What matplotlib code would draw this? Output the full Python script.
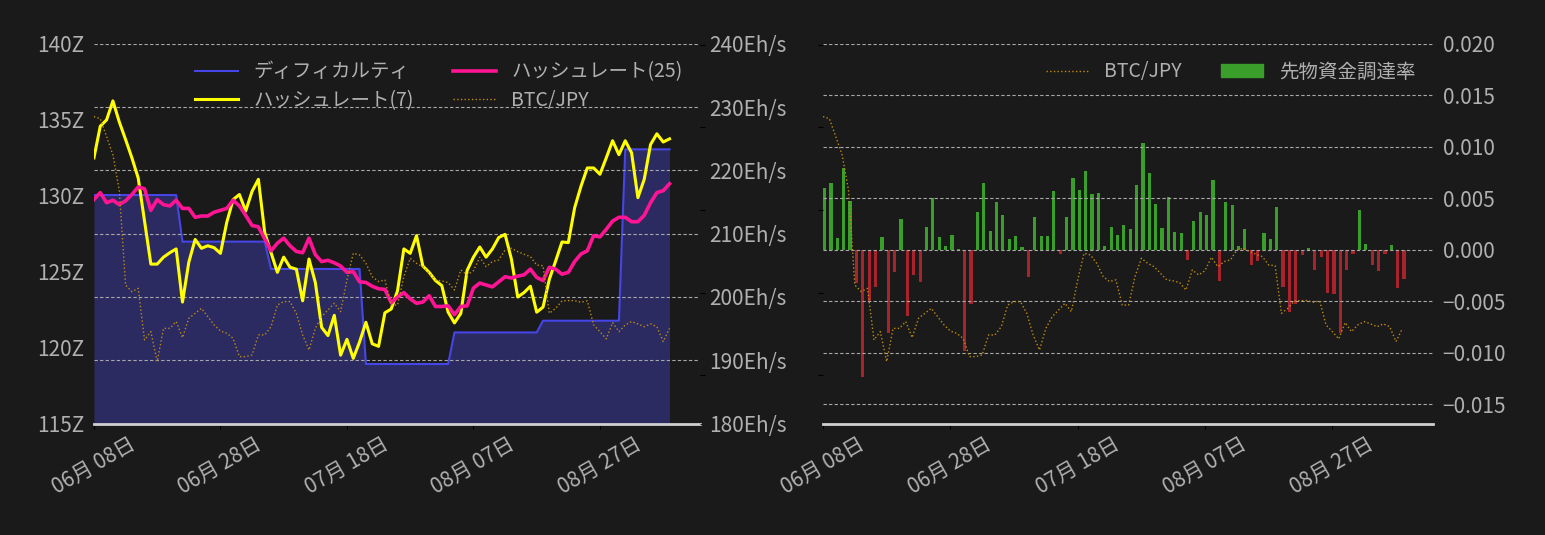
import matplotlib
matplotlib.use("Agg")
import matplotlib.pyplot as plt
import matplotlib.dates as mdates
from matplotlib.lines import Line2D
from matplotlib.patches import Patch
from matplotlib.ticker import FuncFormatter, MultipleLocator
import pandas as pd

plt.rcParams['font.family'] = ['Noto Sans CJK JP', 'DejaVu Sans']

# daily data, 2022-06-08 .. 2022-09-07
dates = pd.date_range('2022-06-08', periods=92, freq='D').to_pydatetime()

# difficulty (Z hashes)
difficulty = [
    130.05, 130.05, 130.05, 130.05, 130.05, 130.05, 130.05, 130.05, 130.05, 130.05,
    130.05, 130.05, 130.05, 130.05, 126.98, 126.98, 126.98, 126.98, 126.98, 126.98,
    126.98, 126.98, 126.98, 126.98, 126.98, 126.98, 126.98, 126.98, 125.18, 125.18,
    125.18, 125.18, 125.18, 125.18, 125.18, 125.18, 125.18, 125.18, 125.18, 125.18,
    125.18, 125.18, 125.18, 118.92, 118.92, 118.92, 118.92, 118.92, 118.92, 118.92,
    118.92, 118.92, 118.92, 118.92, 118.92, 118.92, 118.92, 121.00, 121.00, 121.00,
    121.00, 121.00, 121.00, 121.00, 121.00, 121.00, 121.00, 121.00, 121.00, 121.00,
    121.00, 121.77, 121.77, 121.77, 121.77, 121.77, 121.77, 121.77, 121.77, 121.77,
    121.77, 121.77, 121.77, 121.77, 133.06, 133.06, 133.06, 133.06, 133.06, 133.06,
    133.06, 133.06]

# hashrate, 7-day average (Eh/s)
hash7 = [
    222.0, 227.0, 228.0, 231.0, 227.7, 224.9, 222.0, 218.8, 212.0, 205.2,
    205.2, 206.3, 207.0, 207.6, 199.2, 205.5, 209.1, 207.7, 208.1, 207.8,
    206.9, 211.8, 215.4, 216.2, 213.6, 216.7, 218.6, 210.2, 207.0, 203.9,
    206.3, 204.7, 204.4, 199.4, 206.0, 202.3, 195.2, 193.9, 197.1, 190.8,
    193.3, 190.3, 192.9, 196.0, 192.6, 192.2, 197.5, 198.1, 201.0, 207.6,
    206.9, 209.7, 204.9, 203.9, 202.6, 201.8, 197.6, 195.9, 197.4, 204.2,
    206.3, 207.9, 206.3, 207.6, 209.4, 209.9, 206.0, 200.0, 200.7, 201.7,
    197.6, 198.4, 202.8, 205.7, 208.7, 208.6, 214.1, 217.5, 220.4, 220.4,
    219.4, 222.0, 224.7, 222.5, 224.7, 222.8, 215.7, 218.6, 224.1, 225.8,
    224.5, 225.0]

# hashrate, 25-day average (Eh/s)
hash25 = [
    215.4, 216.5, 214.9, 215.3, 214.6, 215.2, 216.2, 217.4, 217.1, 213.7,
    215.4, 214.6, 214.4, 215.3, 214.0, 214.0, 212.6, 212.8, 212.8, 213.4,
    213.7, 214.0, 215.3, 214.4, 212.9, 211.3, 211.1, 209.2, 207.3, 208.5,
    209.3, 208.1, 207.2, 207.0, 209.3, 206.7, 205.6, 205.8, 205.4, 204.9,
    203.9, 204.0, 202.4, 202.3, 201.7, 201.3, 201.2, 199.1, 200.0, 200.7,
    199.7, 199.0, 199.2, 200.2, 198.5, 198.5, 198.6, 197.2, 198.5, 198.6,
    201.4, 202.2, 201.9, 201.6, 202.4, 203.2, 203.0, 203.3, 203.5, 204.4,
    203.1, 202.6, 204.7, 204.4, 203.6, 203.9, 205.6, 206.8, 207.3, 209.7,
    209.5, 210.7, 212.0, 212.6, 212.6, 211.9, 211.9, 212.9, 214.9, 216.5,
    216.8, 217.9]

# BTC/JPY close
btc = [
    4065000, 4052000, 3944000, 3833000, 3621000, 3046000, 3006000, 3026000, 2714000, 2764000,
    2583000, 2784000, 2784000, 2825000, 2728000, 2845000, 2875000, 2905000, 2855000, 2805000,
    2768000, 2754000, 2724000, 2613000, 2613000, 2623000, 2744000, 2744000, 2794000, 2925000,
    2946000, 2946000, 2875000, 2744000, 2653000, 2784000, 2855000, 2895000, 2936000, 2885000,
    3077000, 3238000, 3228000, 3177000, 3097000, 3067000, 3077000, 2925000, 2925000, 3097000,
    3208000, 3177000, 3157000, 3117000, 3077000, 3071000, 3061000, 3016000, 3137000, 3107000,
    3133000, 3214000, 3157000, 3188000, 3198000, 3258000, 3268000, 3248000, 3232000, 3218000,
    3167000, 3163000, 2875000, 2905000, 2950000, 2952000, 2952000, 2942000, 2950000, 2805000,
    2764000, 2720000, 2819000, 2764000, 2805000, 2825000, 2811000, 2794000, 2811000, 2794000,
    2704000, 2784000]

# futures funding rate
funding = [
    0.0060, 0.0065, 0.0012, 0.0080, 0.0048, -0.0032, -0.0123, -0.0051, -0.0036, 0.0013,
    -0.0081, -0.0021, 0.0030, -0.0064, -0.0024, -0.0031, 0.0022, 0.0050, 0.0013, 0.0004,
    0.0015, 0.0001, -0.0098, -0.0052, 0.0037, 0.0065, 0.0018, 0.0047, 0.0034, 0.0011,
    0.0014, 0.0003, -0.0026, 0.0032, 0.0014, 0.0014, 0.0057, -0.0004, 0.0032, 0.0070,
    0.0058, 0.0077, 0.0054, 0.0055, 0.0004, 0.0022, 0.0015, 0.0024, 0.0020, 0.0063,
    0.0104, 0.0075, 0.0045, 0.0021, 0.0051, 0.0017, 0.0016, -0.0010, 0.0028, 0.0037,
    0.0034, 0.0068, -0.0030, 0.0047, 0.0044, 0.0004, 0.0020, -0.0015, -0.0011, 0.0016,
    0.0011, 0.0042, -0.0036, -0.0060, -0.0052, -0.0005, 0.0002, -0.0019, -0.0007, -0.0042,
    -0.0043, -0.0081, -0.0019, -0.0004, 0.0039, 0.0006, -0.0015, -0.0020, -0.0004, 0.0005,
    -0.0037, -0.0028]

BG = '#1a1a1a'
TXT = '#b0b0b0'
GRID = '#a8a8a8'
BTC_C = '#c08a12'

fig = plt.figure(figsize=(15.45, 5.35), dpi=100, facecolor=BG)

x0 = mdates.date2num(dates[0])
xlim = (x0, x0 + 95.8)
xticks = dates[::20]


def style_axes(ax, bottom=False):
    ax.set_facecolor('none')
    for s in ['top', 'left', 'right']:
        ax.spines[s].set_visible(False)
    ax.spines['bottom'].set_visible(bottom)
    ax.spines['bottom'].set_color('#d0d0d0')
    ax.spines['bottom'].set_linewidth(2)
    ax.tick_params(colors=TXT, labelsize=15)
    ax.tick_params(axis='y', color=BG)
    ax.tick_params(axis='x', color='black')


def style_dates(ax):
    ax.set_xlim(xlim)
    ax.set_xticks(xticks)
    ax.xaxis.set_major_formatter(mdates.DateFormatter('%m月 %d日'))
    for lbl in ax.get_xticklabels():
        lbl.set_rotation(30)
        lbl.set_ha('center')


# ---------- left: difficulty / hashrate ----------
ax_d = fig.add_axes([0.0608, 0.2084, 0.3922, 0.7094])
ax_d.set_facecolor(BG)
style_axes(ax_d, bottom=True)
ax_d.fill_between(dates, difficulty, 100, color='#2b2b62', linewidth=0)
ax_d.plot(dates, difficulty, color='#4646e6', lw=1.5)
ax_d.set_ylim(115, 140)
ax_d.set_yticks([115, 120, 125, 130, 135, 140])
ax_d.yaxis.set_major_formatter(FuncFormatter(lambda v, p: f'{v:.0f}Z'))
style_dates(ax_d)

ax_h = ax_d.twinx()
style_axes(ax_h)
ax_h.plot(dates, hash7, color='#ffff00', lw=2.2)
ax_h.plot(dates, hash25, color='#ff1493', lw=2.6)
ax_h.set_ylim(180, 240)
ax_h.set_yticks([180, 190, 200, 210, 220, 230, 240])
ax_h.yaxis.set_major_formatter(FuncFormatter(lambda v, p: f'{v:.0f}Eh/s'))
ax_h.grid(axis='y', color=GRID, linestyle=(0, (3, 2)), lw=0.8)

ax_b = ax_d.twinx()
style_axes(ax_b)
ax_b.plot(dates, btc, color=BTC_C, lw=1.0, linestyle=':')
ax_b.set_ylim(2208500, 4504000)
ax_b.yaxis.set_major_locator(MultipleLocator(500000))
ax_b.tick_params(axis='y', color='black', labelright=False)

handles = [
    Line2D([], [], color='#4646e6', lw=1.5),
    Line2D([], [], color='#ffff00', lw=2.2),
    Line2D([], [], color='#ff1493', lw=2.6),
    Line2D([], [], color=BTC_C, lw=1.0, linestyle=':'),
]
labels = ['ディフィカルティ', 'ハッシュレート(7)', 'ハッシュレート(25)', 'BTC/JPY']
ax_b.legend(handles, labels, loc='upper right', ncol=2, frameon=False,
            fontsize=14, labelcolor=TXT, handlelength=2.2, handletextpad=0.8,
            columnspacing=2.0, labelspacing=0.4)

# ---------- right: funding rate ----------
ax_f = fig.add_axes([0.5327, 0.2084, 0.3948, 0.7094])
ax_f.set_facecolor(BG)
style_axes(ax_f, bottom=True)
bar_colors = ['#3a9e2a' if v >= 0 else '#a8232b' for v in funding]
ax_f.bar(dates, funding, width=0.5, align='edge', color=bar_colors)
ax_f.set_ylim(-0.01685, 0.020)
ax_f.set_yticks([-0.015, -0.010, -0.005, 0.0, 0.005, 0.010, 0.015, 0.020])
ax_f.grid(axis='y', color=GRID, linestyle=(0, (3, 2)), lw=0.8)
style_dates(ax_f)

ax_fb = ax_f.twinx()
style_axes(ax_fb)
ax_fb.plot(dates, btc, color=BTC_C, lw=1.0, linestyle=':')
ax_fb.set_ylim(2208500, 4504000)
ax_fb.yaxis.set_major_locator(MultipleLocator(500000))
ax_fb.yaxis.tick_left()
ax_fb.tick_params(axis='y', color='black', labelleft=False, labelright=False)

# twinx moves the host's ticks to the left, so put them back on the right
ax_f.yaxis.tick_right()
ax_f.tick_params(axis='y', color=BG, labelcolor=TXT, labelsize=15)

handles_r = [Line2D([], [], color=BTC_C, lw=1.0, linestyle=':'),
             Patch(color='#3a9e2a')]
ax_fb.legend(handles_r, ['BTC/JPY', '先物資金調達率'], loc='upper right', ncol=2,
             frameon=False, fontsize=14, labelcolor=TXT, handlelength=2.2,
             handletextpad=0.8, columnspacing=2.0)

fig.savefig('out.png', dpi=100, facecolor=BG)
